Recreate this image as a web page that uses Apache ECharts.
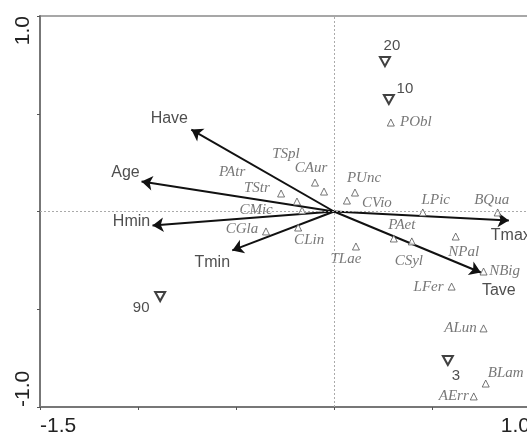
<!DOCTYPE html>
<html>
<head>
<meta charset="utf-8">
<script src="https://cdn.jsdelivr.net/npm/echarts@6/dist/echarts.min.js"></script>
<style>
  html, body { margin: 0; padding: 0; background: #fff; }
  #main { width: 527px; height: 432px; }
</style>
</head>
<body>
<div id="main"></div>
<script>
// species scores (small triangles)
var speciesNames = ['PObl','TSpl','CAur','PAtr','TStr','CMic','CGla','CLin','PUnc','CVio','LPic','BQua','PAet','CSyl','TLae','NPal','NBig','LFer','ALun','BLam','AErr'];
var speciesX = [0.290,-0.097,-0.051,-0.270,-0.189,-0.163,-0.347,-0.183,0.107,0.066,0.453,0.835,0.305,0.397,0.112,0.621,0.763,0.600,0.763,0.774,0.713];
var speciesY = [0.455,0.148,0.102,0.092,0.051,0.005,-0.102,-0.082,0.097,0.056,-0.005,-0.005,-0.138,-0.153,-0.179,-0.128,-0.307,-0.384,-0.598,-0.880,-0.946];
// sites (inverted triangles)
var siteNames = ['20','10','90','3'];
var siteX = [0.260,0.280,-0.887,0.581];
var siteY = [0.767,0.573,-0.435,-0.762];
// environmental variables (arrows)
var envNames = ['Have','Age','Hmin','Tmin','Tmax','Tave'];
var envX = [-0.728,-0.982,-0.926,-0.519,0.892,0.749];
var envY = [0.419,0.153,-0.072,-0.199,-0.046,-0.312];

// label placement (pixels, from the point)
var speciesLabelOffset = [[25,0],[-29,-29],[-13,-23],[-49,-21],[-40,-13],[-46,0],[-24,-2],[11,13],[9,-14],[30,3],[13,-12],[-6,-12],[8,-13],[-3,20],[-10,13],[8,16],[21,0],[-23,0],[-23,0],[20,-10],[-20,0]];
var siteLabelOffset = [[7,-16],[16,-11],[-19,11],[8,15]];
var envLabelOffset = [[-22,-11],[-16,-9],[-21,-4],[-20,12],[2,15],[18,18]];

var chart = echarts.init(document.getElementById('main'));

var speciesData = speciesNames.map(function(n,i){
    return {name:n, value:[speciesX[i],speciesY[i]], label:{offset:speciesLabelOffset[i]}};
});
var siteData = siteNames.map(function(n,i){
    return {name:n, value:[siteX[i],siteY[i]], label:{offset:siteLabelOffset[i]}};
});
var envLines = envNames.map(function(n,i){
    return {coords:[[0,0],[envX[i],envY[i]]]};
});
var envTips = envNames.map(function(n,i){
    return {name:n, value:[envX[i],envY[i]], label:{offset:envLabelOffset[i]}};
});

var endLabel = function(lo, hi){
    return function(v){
        if (Math.abs(v-lo)<1e-9 || Math.abs(v-hi)<1e-9) return v.toFixed(1);
        return '';
    };
};

chart.setOption({
    animation:false,
    grid:{left:40, top:16, width:490, height:391, outerBoundsMode:'none', containLabel:false,
          show:true, borderColor:'#8a8a8a', borderWidth:1.5},
    xAxis:{
        type:'value', min:-1.5, max:1.0, interval:0.5,
        splitLine:{show:false},
        axisLine:{onZero:false, lineStyle:{color:'#777', width:2}},
        axisTick:{length:3, lineStyle:{color:'#555'}},
        axisLabel:{formatter:endLabel(-1.5,1.0), color:'#222', fontSize:21, fontFamily:'Liberation Sans', margin:9,
                   alignMinLabel:'left', alignMaxLabel:'right', showMinLabel:true, showMaxLabel:true}
    },
    yAxis:{
        type:'value', min:-1.0, max:1.0, interval:0.5,
        splitLine:{show:false},
        axisLine:{onZero:false, lineStyle:{color:'#777', width:2}},
        axisTick:{length:3, lineStyle:{color:'#555'}},
        axisLabel:{formatter:endLabel(-1.0,1.0), rotate:90, color:'#222', fontSize:21, fontFamily:'Liberation Sans', margin:6,
                   alignMinLabel:'left', alignMaxLabel:'right', showMinLabel:true, showMaxLabel:true}
    },
    series:[
        {
            type:'scatter', data:[], silent:true,
            markLine:{
                silent:true, symbol:['none','none'],
                label:{show:false},
                lineStyle:{color:'#aaa', width:1, type:[2,2]},
                data:[{xAxis:0},{yAxis:0}]
            }
        },
        {
            type:'lines', coordinateSystem:'cartesian2d', silent:true,
            symbol:['none','arrow'], symbolSize:11,
            lineStyle:{color:'#111', width:2, opacity:1},
            data:envLines
        },
        {
            type:'scatter', symbolSize:0, silent:true,
            label:{show:true, position:'inside', formatter:'{b}', color:'#222', fontSize:16, fontFamily:'Liberation Sans'},
            data:envTips
        },
        {
            type:'scatter', symbol:'triangle', symbolSize:7, silent:true,
            itemStyle:{color:'#fff', borderColor:'#555', borderWidth:1},
            label:{show:true, position:'inside', formatter:'{b}', color:'#555', fontSize:15, fontStyle:'italic', fontFamily:'Liberation Serif'},
            data:speciesData
        },
        {
            type:'scatter', symbol:'triangle', symbolRotate:180, symbolSize:[10,9], silent:true,
            itemStyle:{color:'#fff', borderColor:'#111', borderWidth:2},
            label:{show:true, position:'inside', formatter:'{b}', color:'#222', fontSize:15, fontFamily:'Liberation Sans'},
            data:siteData
        }
    ]
});
</script>
</body>
</html>
